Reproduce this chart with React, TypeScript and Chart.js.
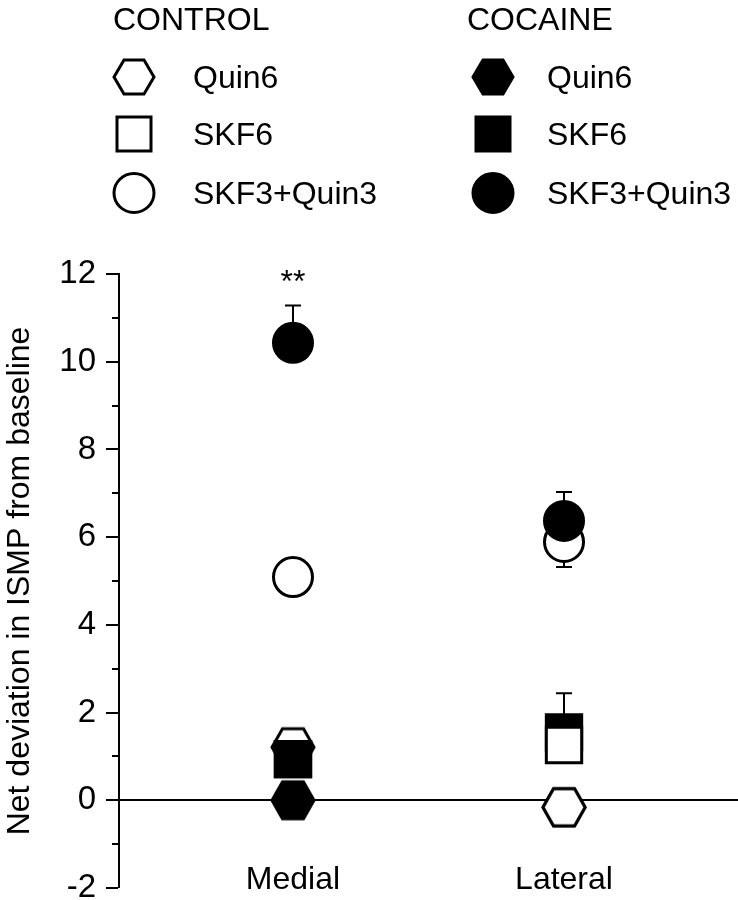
import React, { useEffect, useRef } from "react";
import { Chart, registerables } from "chart.js";

Chart.register(...registerables);

// ---------------- data ----------------
const categories = ["Medial", "Lateral"];
const categoryX = [1, 2];
const yTickValues = [-2, 0, 2, 4, 6, 8, 10, 12];

const controlQuin6 = [1.21, -0.16];
const controlSKF6 = [0.94, 1.26];
const controlSKF3Quin3 = [5.09, 5.89];
const cocaineQuin6 = [0.0, -0.16];
const cocaineSKF6 = [0.94, 1.55];
const cocaineSKF3Quin3 = [10.43, 6.37];

const controlQuin6Sem = [0.3, 0.2];
const controlSKF6Sem = [0.2, 0.3];
const controlSKF3Quin3Sem = [0.35, 0.57];
const cocaineQuin6Sem = [0.3, 0.2];
const cocaineSKF6Sem = [0.3, 0.89];
const cocaineSKF3Quin3Sem = [0.85, 0.66];

const significance = ["**", ""];
const groups = ["CONTROL", "COCAINE"];

// ---------------- styling ----------------
const FONT = 'Arial, "Liberation Sans", Helvetica, sans-serif';
Chart.defaults.font.family = FONT;
Chart.defaults.color = "#000";

type Marker = "hex" | "square" | "circle";
interface Series {
  group: number;
  label: string;
  marker: Marker;
  filled: boolean;
  values: number[];
  sem: number[];
  errDir: number;
  rank: number[];
}

const series: Series[] = [
  { group: 0, label: "Quin6", marker: "hex", filled: false, values: controlQuin6, sem: controlQuin6Sem, errDir: -1, rank: [1, 2] },
  { group: 0, label: "SKF6", marker: "square", filled: false, values: controlSKF6, sem: controlSKF6Sem, errDir: -1, rank: [2, 4] },
  { group: 0, label: "SKF3+Quin3", marker: "circle", filled: false, values: controlSKF3Quin3, sem: controlSKF3Quin3Sem, errDir: -1, rank: [5, 5] },
  { group: 1, label: "Quin6", marker: "hex", filled: true, values: cocaineQuin6, sem: cocaineQuin6Sem, errDir: 1, rank: [4, 1] },
  { group: 1, label: "SKF6", marker: "square", filled: true, values: cocaineSKF6, sem: cocaineSKF6Sem, errDir: 1, rank: [3, 3] },
  { group: 1, label: "SKF3+Quin3", marker: "circle", filled: true, values: cocaineSKF3Quin3, sem: cocaineSKF3Quin3Sem, errDir: 1, rank: [6, 6] },
];

function hexCanvas(filled: boolean, w: number, h: number, lw: number) {
  const c = document.createElement("canvas");
  c.width = Math.ceil(w + lw * 2);
  c.height = Math.ceil(h + lw * 2);
  const ctx = c.getContext("2d")!;
  const cx = c.width / 2;
  const cy = c.height / 2;
  ctx.beginPath();
  ctx.moveTo(cx - w / 2, cy);
  ctx.lineTo(cx - w / 4, cy - h / 2);
  ctx.lineTo(cx + w / 4, cy - h / 2);
  ctx.lineTo(cx + w / 2, cy);
  ctx.lineTo(cx + w / 4, cy + h / 2);
  ctx.lineTo(cx - w / 4, cy + h / 2);
  ctx.closePath();
  ctx.fillStyle = filled ? "#000" : "#fff";
  ctx.fill();
  ctx.lineWidth = lw;
  ctx.strokeStyle = "#000";
  ctx.lineJoin = "miter";
  ctx.stroke();
  return c;
}

const annotationPlugin = {
  id: "annotations",
  beforeDatasetsDraw(chart: any) {
    const { ctx } = chart;
    const xs = chart.scales.x;
    const ys = chart.scales.y;
    ctx.save();
    ctx.strokeStyle = "#000";
    ctx.lineWidth = 2;
    // error bars (drawn beneath the markers)
    series.forEach((s) => {
      s.values.forEach((v, i) => {
        const px = xs.getPixelForValue(categoryX[i]);
        const p0 = ys.getPixelForValue(v);
        const p1 = ys.getPixelForValue(v + s.errDir * s.sem[i]);
        ctx.beginPath();
        ctx.moveTo(px, p0);
        ctx.lineTo(px, p1);
        ctx.moveTo(px - 8, p1);
        ctx.lineTo(px + 8, p1);
        ctx.stroke();
      });
    });
    // minor ticks
    const left = chart.chartArea.left;
    for (let v = ys.min + 1; v < ys.max; v += 2) {
      const py = Math.round(ys.getPixelForValue(v));
      ctx.beginPath();
      ctx.moveTo(left - 7, py);
      ctx.lineTo(left, py);
      ctx.stroke();
    }
    ctx.restore();
  },
  afterDatasetsDraw(chart: any) {
    const { ctx } = chart;
    const xs = chart.scales.x;
    const ys = chart.scales.y;
    ctx.save();
    ctx.fillStyle = "#000";
    ctx.font = `32px ${FONT}`;
    ctx.textAlign = "center";
    ctx.textBaseline = "alphabetic";
    significance.forEach((t, i) => {
      if (!t) return;
      const v = cocaineSKF3Quin3[i] + cocaineSKF3Quin3Sem[i] + 0.22;
      ctx.fillText(t, xs.getPixelForValue(categoryX[i]), ys.getPixelForValue(v) - 4);
    });
    ctx.restore();
  },
};

function LegendMarker({ marker, filled, cx, cy }: { marker: Marker; filled: boolean; cx: number; cy: number }) {
  const fill = filled ? "#000" : "#fff";
  let w = 46;
  let h = 42;
  let shape: React.ReactNode = null;
  if (marker === "hex") {
    w = 46; h = 40;
    shape = <polygon points="3,20 13,3 33,3 43,20 33,37 13,37" fill={fill} stroke="#000" strokeWidth={3} />;
  } else if (marker === "square") {
    w = 40; h = 40;
    shape = <rect x={3} y={3} width={34} height={34} fill={fill} stroke="#000" strokeWidth={3} />;
  } else {
    w = 46; h = 44;
    shape = <ellipse cx={23} cy={22} rx={20} ry={19.5} fill={fill} stroke="#000" strokeWidth={3} />;
  }
  return (
    <svg width={w} height={h} style={{ position: "absolute", left: cx - w / 2, top: cy - h / 2 }}>
      {shape}
    </svg>
  );
}

const textStyle: React.CSSProperties = {
  position: "absolute",
  fontFamily: FONT,
  fontSize: 32,
  lineHeight: "32px",
  whiteSpace: "nowrap",
  color: "#000",
};

const legendCol = [
  { head: 113, mark: 134, text: 193 },
  { head: 467, mark: 493, text: 547 },
];
const legendRowY = [77, 134, 193];

export default function App() {
  const ref = useRef<HTMLCanvasElement | null>(null);

  useEffect(() => {
    document.body.style.margin = "0";
    const canvas = ref.current!;
    const hexOpen = hexCanvas(false, 42, 37, 3);
    const hexFilled = hexCanvas(true, 42, 37, 3);

    const datasets: any[] = [];
    series.forEach((s) => {
      s.values.forEach((v, i) => {
        const common: any = {
          label: `${groups[s.group]} ${s.label} ${categories[i]}`,
          data: [{ x: categoryX[i], y: v }],
          showLine: false,
          order: -s.rank[i],
          pointBorderColor: "#000",
          pointBackgroundColor: s.filled ? "#000" : "#fff",
          pointBorderWidth: 3,
          pointHoverBorderWidth: 3,
        };
        if (s.marker === "hex") {
          common.pointStyle = s.filled ? hexFilled : hexOpen;
          common.pointRadius = 20;
          common.pointHoverRadius = 20;
        } else if (s.marker === "square") {
          common.pointStyle = "rect";
          common.pointRadius = 25;
          common.pointHoverRadius = 25;
        } else {
          common.pointStyle = "circle";
          common.pointRadius = 19.5;
          common.pointHoverRadius = 19.5;
        }
        datasets.push(common);
      });
    });

    const chart = new Chart(canvas, {
      type: "scatter",
      data: { datasets },
      options: {
        responsive: false,
        maintainAspectRatio: false,
        animation: false,
        events: [],
        layout: { autoPadding: false, padding: { top: 274, bottom: 12, left: 0, right: 0 } },
        plugins: { legend: { display: false }, tooltip: { enabled: false } },
        scales: {
          x: {
            type: "linear",
            min: 0.358,
            max: 2.642,
            position: { y: -1.38 } as any,
            afterBuildTicks: (s: any) => {
              s.ticks = categoryX.map((v) => ({ value: v }));
            },
            ticks: {
              callback: (_v: any, i: number) => categories[i],
              font: { size: 32 },
              color: "#000",
              padding: 0,
              maxRotation: 0,
              autoSkip: false,
            },
            grid: { display: false, drawTicks: false },
            border: { display: false },
          },
          y: {
            min: yTickValues[0],
            max: yTickValues[yTickValues.length - 1],
            afterBuildTicks: (s: any) => {
              s.ticks = yTickValues.map((v) => ({ value: v }));
            },
            ticks: { font: { size: 33 }, color: "#000", padding: 10 },
            grid: {
              drawTicks: true,
              tickLength: 13,
              tickWidth: 2,
              tickColor: "#000",
              color: (c: any) => (c.tick && c.tick.value === 0 ? "#000" : "rgba(0,0,0,0)"),
              lineWidth: (c: any) => (c.tick && c.tick.value === 0 ? 2 : 0),
            },
            border: { display: true, color: "#000", width: 2 },
            title: {
              display: true,
              text: "Net deviation in ISMP from baseline",
              font: { size: 32, lineHeight: 1 },
              color: "#000",
              padding: { top: 4, bottom: 0 },
            },
            afterFit: (s: any) => {
              s.width = 119;
              s.paddingTop = 0;
              s.paddingBottom = 0;
            },
          },
        },
      },
      plugins: [annotationPlugin],
    });
    return () => chart.destroy();
  }, []);

  return (
    <div style={{ position: "relative", width: 738, height: 900, overflow: "hidden", background: "#fff" }}>
      <canvas ref={ref} width={738} height={900} style={{ position: "absolute", left: 0, top: 0, display: "block" }} />
      {groups.map((g, gi) => (
        <div key={g} style={{ ...textStyle, left: legendCol[gi].head, top: 19 - 16 }}>
          {g}
        </div>
      ))}
      {series.map((s, si) => {
        const col = legendCol[s.group];
        const row = si % 3;
        const cy = legendRowY[row];
        return (
          <React.Fragment key={si}>
            <LegendMarker marker={s.marker} filled={s.filled} cx={col.mark} cy={cy} />
            <div style={{ ...textStyle, left: col.text, top: cy - 16 }}>{s.label}</div>
          </React.Fragment>
        );
      })}
    </div>
  );
}
